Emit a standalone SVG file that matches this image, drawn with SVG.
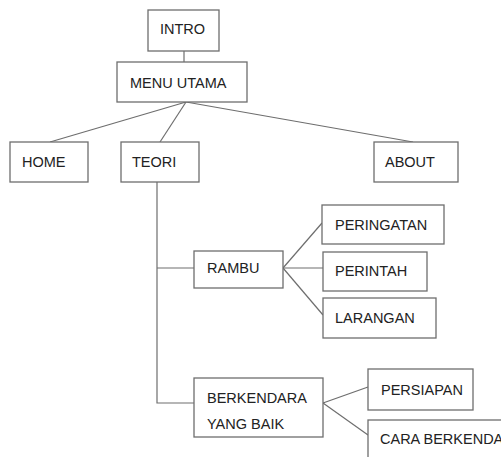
<svg xmlns="http://www.w3.org/2000/svg" width="501" height="457" viewBox="0 0 501 457">
<style>
.box{fill:#fff;stroke:#6e6e6e;stroke-width:1.3}
.t{font-family:"Liberation Sans",Arial,sans-serif;font-size:14.5px;fill:#222}
.c{stroke:#6e6e6e;stroke-width:1.2;fill:none}
</style>
<rect width="501" height="457" fill="#fff"/>
<g id="connectors">
<line class="c" x1="184" y1="51" x2="184" y2="62"/>
<line class="c" x1="186" y1="102" x2="50" y2="142"/>
<line class="c" x1="186" y1="102" x2="160" y2="142"/>
<line class="c" x1="186" y1="102" x2="413" y2="142"/>
<polyline class="c" points="157,182 157,403 194,403"/>
<line class="c" x1="157" y1="268" x2="194" y2="268"/>
<line class="c" x1="283" y1="268" x2="322" y2="223"/>
<line class="c" x1="283" y1="268" x2="323" y2="268"/>
<line class="c" x1="283" y1="268" x2="323" y2="315"/>
<line class="c" x1="323" y1="403" x2="368" y2="387"/>
<line class="c" x1="323" y1="403" x2="368" y2="435"/>
</g>
<g id="intro"><rect class="box" x="148" y="10" width="71" height="41"/><text class="t" x="160" y="34">INTRO</text></g>
<g id="menu"><rect class="box" x="117" y="62" width="130" height="40"/><text class="t" x="130" y="88">MENU UTAMA</text></g>
<g id="home"><rect class="box" x="10" y="142" width="78" height="40"/><text class="t" x="22" y="167">HOME</text></g>
<g id="teori"><rect class="box" x="121" y="142" width="78" height="40"/><text class="t" x="132" y="167">TEORI</text></g>
<g id="about"><rect class="box" x="374" y="142" width="84" height="40"/><text class="t" x="385" y="167">ABOUT</text></g>
<g id="rambu"><rect class="box" x="194" y="251" width="89" height="37"/><text class="t" x="207" y="273">RAMBU</text></g>
<g id="peringatan"><rect class="box" x="322" y="205" width="122" height="39"/><text class="t" x="335" y="230">PERINGATAN</text></g>
<g id="perintah"><rect class="box" x="323" y="252" width="104" height="39"/><text class="t" x="335" y="276">PERINTAH</text></g>
<g id="larangan"><rect class="box" x="323" y="298" width="113" height="40"/><text class="t" x="335" y="323">LARANGAN</text></g>
<g id="berkendara"><rect class="box" x="194" y="378" width="129" height="59"/><text class="t" x="207" y="403">BERKENDARA</text><text class="t" x="207" y="429">YANG BAIK</text></g>
<g id="persiapan"><rect class="box" x="368" y="369" width="105" height="41"/><text class="t" x="381" y="395">PERSIAPAN</text></g>
<g id="cara"><rect class="box" x="368" y="420" width="150" height="50"/><text class="t" x="380" y="444">CARA BERKENDARA</text></g>
</svg>
